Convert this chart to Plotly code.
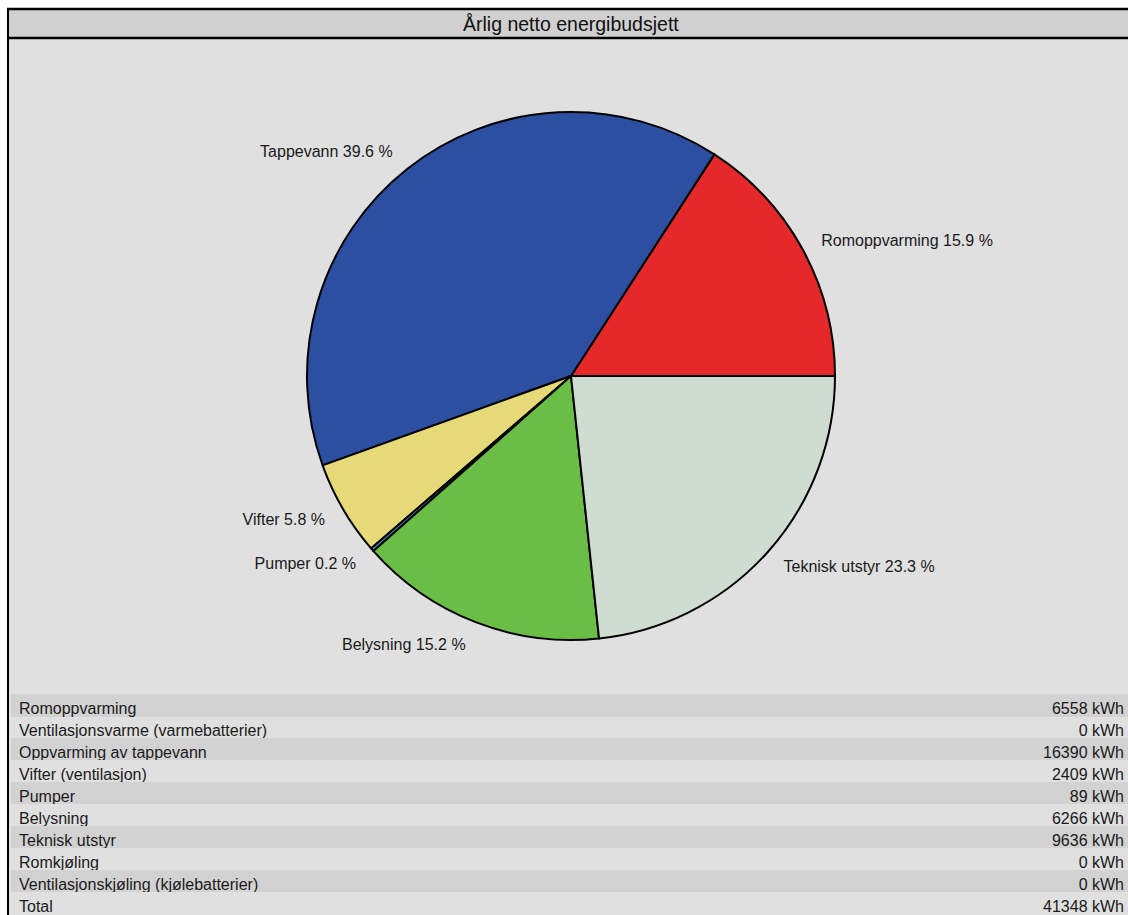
import plotly.graph_objects as go

# ---- data ----
categories = [
    "Romoppvarming",
    "Ventilasjonsvarme (varmebatterier)",
    "Oppvarming av tappevann",
    "Vifter (ventilasjon)",
    "Pumper",
    "Belysning",
    "Teknisk utstyr",
    "Romkjøling",
    "Ventilasjonskjøling (kjølebatterier)",
]
pie_labels = [
    "Romoppvarming",
    "Ventilasjonsvarme",
    "Tappevann",
    "Vifter",
    "Pumper",
    "Belysning",
    "Teknisk utstyr",
    "Romkjøling",
    "Ventilasjonskjøling",
]
energy_kwh = [6558, 0, 16390, 2409, 89, 6266, 9636, 0, 0]
slice_colors = ["#e5292b", "#f08a24", "#2d4fa2", "#e6da78", "#4a8fc9",
                "#6abd45", "#cfddd0", "#8fc6e8", "#7b5ea7"]
title_text = "Årlig netto energibudsjett"
unit = "kWh"

# figure drawn at the page origin (body margin removed); slightly wider than the window
W, H = 1136, 915
total = sum(energy_kwh)
FONT = "Liberation Sans, Arial, sans-serif"

# pie with only non-zero categories
nz = [i for i, v in enumerate(energy_kwh) if v > 0]
p_labels = [pie_labels[i] for i in nz]
p_values = [energy_kwh[i] for i in nz]
p_colors = [slice_colors[i] for i in nz]
p_pct = [v / total * 100 for v in p_values]
first_frac = p_values[0] / sum(p_values)
rot = 90 - 360 * first_frac

fig = go.Figure()

# pie geometry (pixels): centre (571, 376), radius 264
cx, cy, r = 571, 376, 264


def dom(rad):
    return dict(x=[(cx - rad) / W, (cx + rad) / W], y=[(H - cy - rad) / H, (H - cy + rad) / H])


# visible pie
fig.add_trace(go.Pie(
    labels=p_labels,
    values=p_values,
    sort=False,
    direction="counterclockwise",
    rotation=rot,
    marker=dict(colors=p_colors, line=dict(color="black", width=2)),
    textinfo="none",
    showlegend=False,
    domain=dom(r),
    hoverinfo="label+value+percent",
))
# transparent, slightly larger pie that carries the outside labels
fig.add_trace(go.Pie(
    labels=p_labels,
    values=p_values,
    customdata=p_pct,
    sort=False,
    direction="counterclockwise",
    rotation=rot,
    marker=dict(colors=["rgba(0,0,0,0)"] * len(p_values), line=dict(width=0)),
    textposition="outside",
    texttemplate="%{label} %{customdata:.1f} %",
    textfont=dict(family=FONT, size=16, color="#1a1a1a"),
    showlegend=False,
    domain=dom(r + 16),
    hoverinfo="skip",
))

# table (first row is drawn as the header row)
row_top = 694
row_h = 22
left_col = categories + ["Total"]
right_col = [f"{v} {unit}" for v in energy_kwh] + [f"{total} {unit}"]
n = len(left_col)
fills = ["#d2d2d2" if i % 2 == 0 else "#e0e0e0" for i in range(n)]
tfont = dict(family=FONT, size=16, color="#1a1a1a")
fig.add_trace(go.Table(
    domain=dict(x=[11 / W, 1132 / W], y=[0, (H - row_top) / H]),
    columnwidth=[1, 1],
    header=dict(
        values=[[left_col[0]], [right_col[0]]],
        align=["left", "right"],
        height=row_h,
        fill=dict(color=fills[0]),
        line=dict(width=1, color=fills[0]),
        font=tfont,
    ),
    cells=dict(
        values=[left_col[1:], right_col[1:]],
        align=["left", "right"],
        height=row_h,
        fill=dict(color=[fills[1:], fills[1:]]),
        line=dict(width=1, color=[fills[1:], fills[1:]]),
        font=tfont,
    ),
))

shapes = [
    # main background
    dict(type="rect", xref="paper", yref="paper", x0=8 / W, x1=1, y0=0, y1=1 - 38 / H,
         fillcolor="#e0e0e0", line=dict(width=0), layer="below"),
    # title bar
    dict(type="rect", xref="paper", yref="paper", x0=8 / W, x1=1, y0=1 - 38 / H, y1=1 - 9 / H,
         fillcolor="#d0d0d0", line=dict(width=0), layer="below"),
    # border lines
    dict(type="line", xref="paper", yref="paper", x0=7 / W, x1=1, y0=1 - 9 / H, y1=1 - 9 / H,
         line=dict(color="black", width=2.5)),
    dict(type="line", xref="paper", yref="paper", x0=7 / W, x1=1, y0=1 - 38 / H, y1=1 - 38 / H,
         line=dict(color="black", width=2.5)),
    dict(type="line", xref="paper", yref="paper", x0=8 / W, x1=8 / W, y0=0, y1=1 - 8 / H,
         line=dict(color="black", width=2)),
]

fig.update_layout(
    width=W, height=H,
    margin=dict(l=0, r=0, t=0, b=0),
    paper_bgcolor="white",
    plot_bgcolor="white",
    shapes=shapes,
    annotations=[dict(
        text=title_text, xref="paper", yref="paper", x=571 / W, y=1 - 24 / H,
        xanchor="center", yanchor="middle", showarrow=False,
        font=dict(family=FONT, size=19.5, color="#111111"),
    )],
)

fig.write_html(
    "out.html",
    config={"displayModeBar": False},
    post_script=(
        "document.documentElement.style.overflow='hidden';"
        "document.body.style.overflow='hidden';"
        "document.body.style.margin='0';"
    ),
)
